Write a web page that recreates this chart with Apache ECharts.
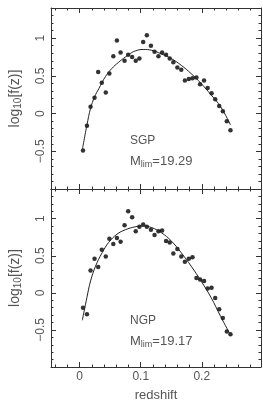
<!DOCTYPE html>
<html>
<head>
<meta charset="utf-8">
<script src="https://cdn.jsdelivr.net/npm/echarts@6/dist/echarts.min.js"></script>
<style>
  html, body { margin: 0; padding: 0; background: #fff; }
  #chart { width: 263px; height: 403px; }
</style>
</head>
<body>
<div id="chart"></div>
<script>
// SGP panel (top)
var sgpZ = [0.0054, 0.0119, 0.0178, 0.0243, 0.0303, 0.0362, 0.0427, 0.0486, 0.0551, 0.061,
  0.067, 0.0735, 0.0794, 0.0859, 0.0918, 0.0978, 0.104, 0.110, 0.1167, 0.1226,
  0.129, 0.135, 0.1415, 0.1475, 0.1534, 0.160, 0.1664, 0.1723, 0.1788, 0.1848,
  0.1912, 0.1972, 0.2037, 0.2096, 0.216, 0.222, 0.2285, 0.2345, 0.241, 0.247]
var sgpF = [-0.49, -0.16, 0.09, 0.21, 0.55, 0.41, 0.28, 0.53, 0.76, 0.97,
  0.81, 0.70, 0.78, 0.75, 0.70, 0.73, 0.95, 1.04, 0.90, 0.82,
  0.76, 0.81, 0.78, 0.73, 0.68, 0.61, 0.58, 0.44, 0.46, 0.47,
  0.48, 0.39, 0.44, 0.34, 0.27, 0.19, 0.10, 0.03, -0.10, -0.22]
var sgpFitZ = [0.0045, 0.0119, 0.0178, 0.0243, 0.0313, 0.0421, 0.0529, 0.0637, 0.080, 0.0908,
  0.104, 0.1178, 0.134, 0.150, 0.1664, 0.1826, 0.1988, 0.215, 0.231, 0.247]
var sgpFitF = [-0.47, -0.15, 0.07, 0.22, 0.33, 0.49, 0.60, 0.68, 0.78, 0.83,
  0.85, 0.84, 0.79, 0.73, 0.64, 0.53, 0.40, 0.25, 0.09, -0.15]

// NGP panel (bottom)
var ngpZ = sgpZ.slice()
var ngpF = [-0.20, -0.29, 0.30, 0.46, 0.35, 0.58, 0.49, 0.73, 0.66, 0.74,
  0.69, 0.91, 1.10, 1.02, 0.83, 0.89, 0.92, 0.89, 0.85, 0.78,
  0.83, 0.84, 0.70, 0.68, 0.53, 0.59, 0.49, 0.42, 0.46, 0.48,
  0.20, 0.18, 0.16, 0.06, 0.07, -0.07, -0.22, -0.34, -0.52, -0.56]
var ngpFitZ = [0.0043, 0.0119, 0.0178, 0.026, 0.0367, 0.0475, 0.061, 0.0746, 0.0908, 0.104,
  0.1178, 0.134, 0.150, 0.1664, 0.1826, 0.1988, 0.215, 0.231, 0.247]
var ngpFitF = [-0.37, -0.06, 0.16, 0.36, 0.54, 0.68, 0.79, 0.85, 0.89, 0.90,
  0.88, 0.81, 0.70, 0.54, 0.36, 0.16, -0.06, -0.32, -0.57]

// ticks
var xMajor = [0, 0.1, 0.2]
var xMinor = [-0.04, -0.02, 0.02, 0.04, 0.06, 0.08, 0.12, 0.14, 0.16, 0.18, 0.22, 0.24, 0.26, 0.28]
var yMajor = [-1, -0.5, 0, 0.5, 1]
var yMinor = [-0.9, -0.8, -0.7, -0.6, -0.4, -0.3, -0.2, -0.1, 0.1, 0.2, 0.3, 0.4,
  0.6, 0.7, 0.8, 0.9, 1.1, 1.2, 1.3]
var yLabels = [-0.5, 0, 0.5, 1]

var FONT = 'Liberation Sans'
var TXT = '#555'
var INK = '#333'

function fmt (v) {
  return v < 0 ? '\u2212' + Math.abs(v) : String(v)
}

function makeX (grid, bottom) {
  var base = {
    gridIndex: grid, type: 'value', min: -0.047, max: 0.297,
    splitLine: { show: false },
    axisLine: { onZero: false, show: false },
    axisLabel: { show: false }
  }
  var list = []
  ;['bottom', 'top'].forEach(function (pos) {
    list.push(Object.assign({}, base, {
      position: pos,
      axisLine: { onZero: false, show: true, lineStyle: { color: INK, width: 1 } },
      axisTick: { inside: true, length: 5, customValues: xMajor, lineStyle: { color: INK } },
      axisLabel: {
        show: pos === 'bottom' && bottom,
        customValues: xMajor, margin: 4, color: TXT, fontFamily: FONT, fontSize: 12,
        formatter: fmt
      },
      name: pos === 'bottom' && bottom ? 'redshift' : '',
      nameLocation: 'middle', nameGap: 22,
      nameTextStyle: { color: TXT, fontFamily: FONT, fontSize: 13 }
    }))
    list.push(Object.assign({}, base, {
      position: pos,
      axisTick: { inside: true, length: 2.5, customValues: xMinor, lineStyle: { color: INK } }
    }))
  })
  return list
}

function makeY (grid) {
  var base = {
    gridIndex: grid, type: 'value', min: -1, max: 1.4,
    splitLine: { show: false },
    axisLine: { onZero: false, show: false },
    axisLabel: { show: false }
  }
  var list = []
  ;['left', 'right'].forEach(function (pos) {
    list.push(Object.assign({}, base, {
      position: pos,
      axisLine: { onZero: false, show: true, lineStyle: { color: INK, width: 1 } },
      axisTick: { inside: true, length: 5, customValues: yMajor, lineStyle: { color: INK } },
      axisLabel: {
        show: pos === 'left', rotate: 90,
        customValues: yLabels, margin: 4, color: TXT, fontFamily: FONT, fontSize: 12,
        formatter: fmt
      },
      name: pos === 'left' ? '{a|log}{b|10}{a|[f(z)]}' : '',
      nameLocation: 'middle', nameRotate: 90, nameGap: 28,
      nameTextStyle: {
        color: TXT, fontFamily: FONT,
        rich: {
          a: { fontSize: 14, lineHeight: 16, color: TXT, fontFamily: FONT },
          b: { fontSize: 10, lineHeight: 10, verticalAlign: 'bottom', color: TXT, fontFamily: FONT }
        }
      }
    }))
    list.push(Object.assign({}, base, {
      position: pos,
      axisTick: { inside: true, length: 2.5, customValues: yMinor, lineStyle: { color: INK } }
    }))
  })
  return list
}

function pairs (xs, ys) {
  return xs.map(function (x, i) { return [x, ys[i]] })
}

function panelSeries (axisIdx, z, f, fitZ, fitF) {
  return [
    {
      type: 'line', xAxisIndex: axisIdx, yAxisIndex: axisIdx,
      data: pairs(fitZ, fitF), smooth: 0.4, showSymbol: false,
      lineStyle: { color: '#222', width: 1 }, silent: true
    },
    {
      type: 'scatter', xAxisIndex: axisIdx, yAxisIndex: axisIdx,
      data: pairs(z, f), symbolSize: 4.5,
      itemStyle: { color: '#000' }, silent: true
    }
  ]
}

function annot (top, name, mlim) {
  return [
    {
      type: 'text', left: 130, top: top,
      style: { text: name, fill: TXT, font: '12px "Liberation Sans"' }
    },
    {
      type: 'text', left: 130, top: top + 20,
      style: {
        text: '{m|M}{s|lim}{m|=' + mlim + '}',
        rich: {
          m: { fontSize: 13, lineHeight: 15, fill: TXT, fontFamily: FONT },
          s: { fontSize: 9, lineHeight: 9, verticalAlign: 'bottom', fill: TXT, fontFamily: FONT }
        }
      }
    }
  ]
}

var chart = echarts.init(document.getElementById('chart'))
chart.setOption({
  backgroundColor: '#fff',
  animation: false,
  grid: [
    { left: 48, top: 8, width: 213, height: 181 },
    { left: 48, top: 189, width: 213, height: 180 }
  ],
  xAxis: makeX(0, false).concat(makeX(1, true)),
  yAxis: makeY(0).concat(makeY(1)),
  series: panelSeries(0, sgpZ, sgpF, sgpFitZ, sgpFitF)
    .concat(panelSeries(4, ngpZ, ngpF, ngpFitZ, ngpFitF)),
  graphic: annot(135, 'SGP', '19.29').concat(annot(315, 'NGP', '19.17'))
})
</script>
</body>
</html>
